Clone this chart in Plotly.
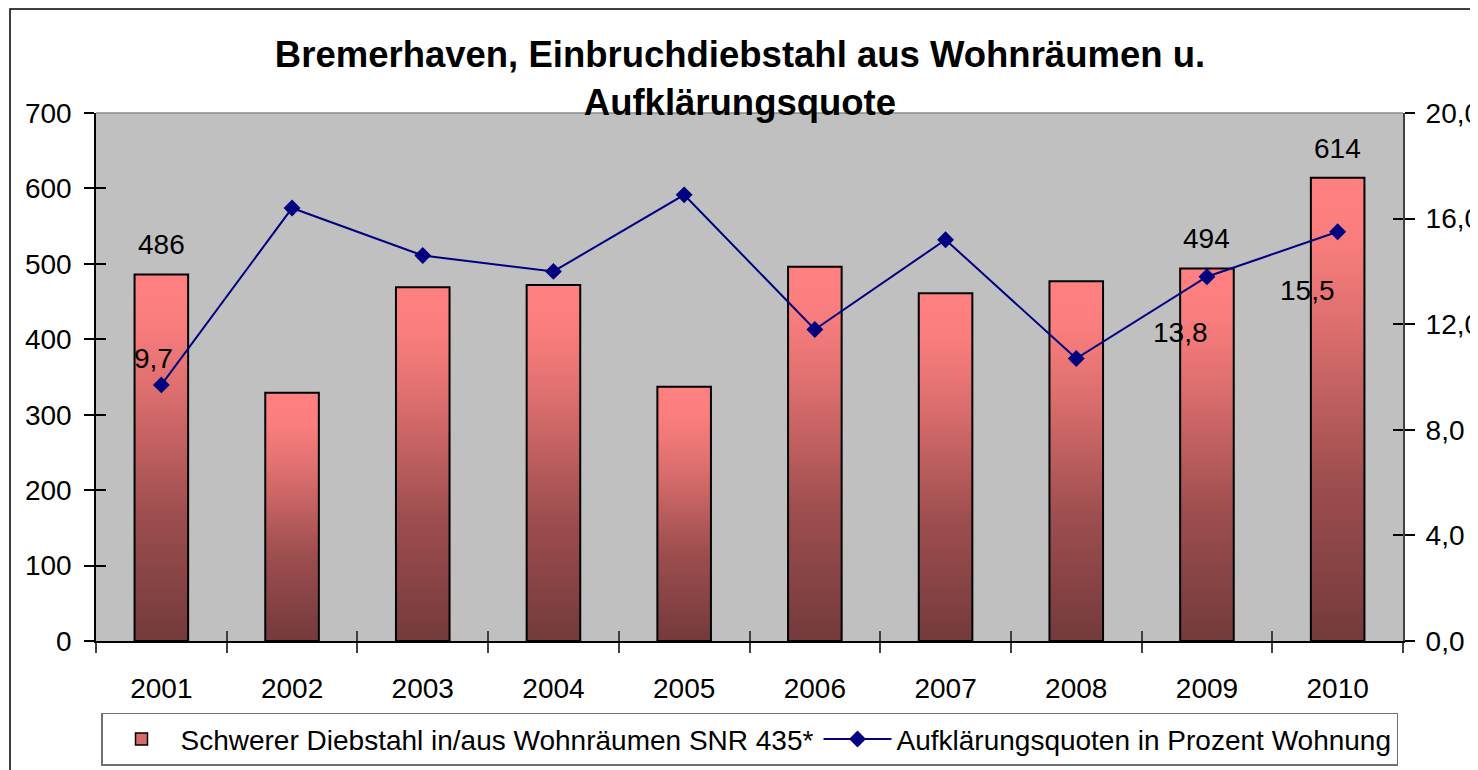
import plotly.graph_objects as go

years = ["2001", "2002", "2003", "2004", "2005", "2006", "2007", "2008", "2009", "2010"]
faelle = [486, 329, 469, 472, 337, 496, 461, 477, 494, 614]
quote = [9.7, 16.4, 14.6, 14.0, 16.9, 11.8, 15.2, 10.7, 13.8, 15.5]
bar_label_years = ["2001", "2009", "2010"]
line_label_years = ["2001", "2009", "2010"]

y_ticks_left = [0, 100, 200, 300, 400, 500, 600, 700]
y_ticks_right = [0, 4, 8, 12, 16, 20]

FONT = "Liberation Sans, Arial, sans-serif"
BAR_HALF = 0.205
grad = [[0.0, "#743A3C"], [0.35, "#9E4E4F"], [0.7, "#E07070"], [0.88, "#FB7E7E"], [1.0, "#FF8080"]]

fig = go.Figure()

idx = list(range(len(years)))
for i, (yr, v) in enumerate(zip(years, faelle)):
    fig.add_trace(go.Scatter(
        x=[i - BAR_HALF, i + BAR_HALF, i + BAR_HALF, i - BAR_HALF, i - BAR_HALF],
        y=[0, 0, v, v, 0],
        mode="lines", fill="toself",
        fillgradient=dict(type="vertical", colorscale=grad),
        line=dict(color="black", width=2),
        name="Schwerer Diebstahl in/aus Wohnräumen SNR 435*",
        legendgroup="bars", showlegend=False,
        hovertemplate=f"{yr}: {v}<extra></extra>",
    ))

# legend entry for the bar series
fig.add_trace(go.Bar(
    x=[None], y=[None], name="Schwerer Diebstahl in/aus Wohnräumen SNR 435*",
    marker=dict(color="#D86A6A", line=dict(color="black", width=1.5)),
    legendgroup="bars", showlegend=True,
))

fig.add_trace(go.Scatter(
    x=idx, y=quote, yaxis="y2", mode="lines+markers",
    line=dict(color="#000080", width=2),
    marker=dict(symbol="diamond", size=13, color="#000080"),
    name="Aufklärungsquoten in Prozent Wohnung",
))

# invisible helper traces so the overlay axes (inner tick halves) get drawn
fig.add_trace(go.Scatter(x=[0], y=[0], xaxis="x3", yaxis="y3", mode="markers",
                         marker=dict(opacity=0), showlegend=False, hoverinfo="skip"))
fig.add_trace(go.Scatter(x=[0], y=[0], xaxis="x3", yaxis="y4", mode="markers",
                         marker=dict(opacity=0), showlegend=False, hoverinfo="skip"))

ann = []
for i, (yr, v) in enumerate(zip(years, faelle)):
    if yr in bar_label_years:
        ann.append(dict(x=i, y=v, xref="x", yref="y", text=str(v), showarrow=False,
                        yanchor="bottom", yshift=12, font=dict(size=28, color="black", family=FONT)))
line_shifts = {"2001": (-8, 26), "2009": (-26, -56), "2010": (-30, -59)}
for i, (yr, q) in enumerate(zip(years, quote)):
    if yr in line_label_years:
        dx, dy = line_shifts[yr]
        ann.append(dict(x=i, y=q, xref="x", yref="y2", text=f"{q:.1f}".replace(".", ","),
                        showarrow=False, xshift=dx, yshift=dy,
                        font=dict(size=28, color="black", family=FONT)))

bounds = [i - 0.5 for i in range(len(years) + 1)]

fig.update_layout(
    width=1470, height=762,
    margin=dict(l=88, r=75, t=105, b=129, autoexpand=False),
    paper_bgcolor="white", plot_bgcolor="#C0C0C0",
    separators=",.",
    font=dict(family=FONT, size=28, color="black"),
    title=dict(text="<b>Bremerhaven, Einbruchdiebstahl aus Wohnräumen u.<br>Aufklärungsquote</b>",
               x=0.4927, xref="paper", xanchor="center", y=0.922, yref="container", yanchor="top",
               font=dict(size=36.5, family=FONT, color="black")),
    xaxis=dict(type="linear", range=[-0.5, 9.5], tickmode="array", tickvals=idx, ticktext=years,
               ticks="", showgrid=False, zeroline=False, showline=True, linecolor="black", linewidth=1.5,
               ticklabelstandoff=22, automargin=False,
               minor=dict(tickmode="array", tickvals=bounds, ticks="outside", ticklen=10,
                          tickwidth=1.5, tickcolor="#404040", showgrid=False),
               fixedrange=True),
    xaxis3=dict(type="linear", range=[-0.5, 9.5], overlaying="x", anchor="y3", tickmode="array",
                tickvals=bounds, ticks="inside", ticklen=10, tickwidth=1.5, tickcolor="#404040",
                showticklabels=False, showgrid=False, zeroline=False, showline=False, automargin=False),
    yaxis=dict(range=[0, 700], tickmode="array", tickvals=y_ticks_left, ticks="outside", ticklen=10,
               tickwidth=1.5, tickcolor="black", showgrid=False, zeroline=False, showline=True,
               linecolor="black", linewidth=1.5, ticklabelstandoff=7, automargin=False),
    yaxis3=dict(range=[0, 700], overlaying="y", anchor="x3", side="left", tickmode="array",
                tickvals=y_ticks_left, ticks="inside", ticklen=10, tickwidth=1.5, tickcolor="black",
                showticklabels=False, showgrid=False, zeroline=False, showline=False, automargin=False),
    yaxis2=dict(range=[0, 20], overlaying="y", side="right", anchor="x", tickmode="array",
                tickvals=y_ticks_right, tickformat=".1f", ticks="outside", ticklen=10, tickwidth=1.5,
                tickcolor="black", showgrid=False, zeroline=False, showline=True, linecolor="#404040",
                linewidth=2, ticklabelstandoff=5, automargin=False),
    yaxis4=dict(range=[0, 20], overlaying="y", side="right", anchor="x3", tickmode="array",
                tickvals=y_ticks_right, ticks="inside", ticklen=10, tickwidth=1.5, tickcolor="black",
                showticklabels=False, showgrid=False, zeroline=False, showline=False, automargin=False),
    legend=dict(orientation="h", x=0.5, xanchor="center", y=-0.136, yanchor="top",
                bgcolor="white", bordercolor="#707070", borderwidth=1.5,
                font=dict(size=28, family=FONT, color="black"), itemwidth=68,
                traceorder="normal"),
    showlegend=True,
    annotations=ann,
    shapes=[
        dict(type="line", xref="paper", yref="paper", x0=0, x1=1, y0=1, y1=1,
             line=dict(color="#8A8A8A", width=1.5)),
        dict(type="rect", xref="paper", yref="paper", x0=-0.0658, x1=1.2, y0=1.197, y1=-0.5,
             line=dict(color="black", width=1.5), fillcolor="rgba(0,0,0,0)", layer="below"),
    ],
)

fig.write_html("out.html")
